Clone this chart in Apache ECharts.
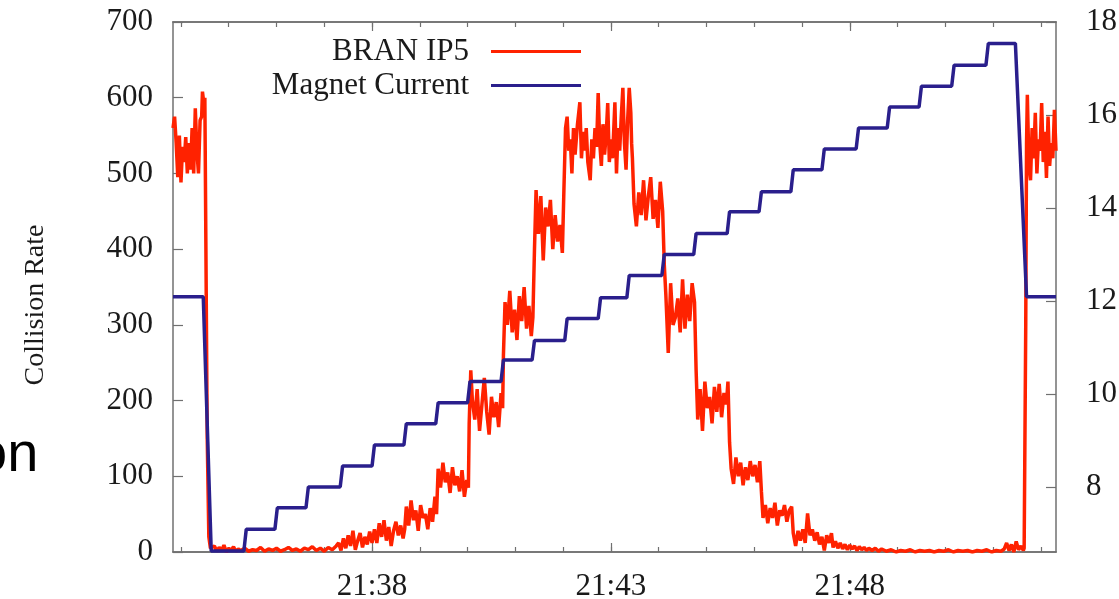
<!DOCTYPE html>
<html>
<head>
<meta charset="utf-8">
<script src="https://cdn.jsdelivr.net/npm/echarts@6/dist/echarts.min.js"></script>
<style>
  html, body { margin: 0; padding: 0; background: #fff; }
  #grafico { width: 1119px; height: 599px; }
</style>
</head>
<body>
<div id="grafico"></div>
<script>
// x values are seconds after 21:30:00
const rateData = [
  [230,560],[232,575],[234,540],[236,495],[238,550],[240,488],[242,535],[244,515],[246,548],[248,500],
  [250,540],[252,505],[254,560],[256,500],[258,586],[260,530],[262,500],[264,570],[266,575],[267,608],
  [269,590],[270,600],[271,450],[273,150],[275,20],[277,5],
  [279,3],[282,8],[285,1],[288,6],[291,2],[294,9],[297,0],[300,5],[303,2],[306,7],[309,1],[312,4],
  [315,2],[320,5],[325,1],[330,3],[335,2],[340,6],[345,1],[350,4],[355,2],[360,5],[365,1],[370,3],
  [375,6],[380,2],[385,4],[390,1],[395,5],[400,3],[405,7],[410,2],[415,5],[420,1],[425,6],[430,3],[435,8],
  [438,12],[441,2],[444,18],[447,5],[450,22],[453,8],[456,28],[459,3],[462,15],[465,25],[468,6],
  [471,20],[474,10],[477,27],[480,12],
  [483,30],[486,12],[489,38],[492,20],[495,42],[498,15],[501,33],[504,8],[507,28],[510,40],[513,22],
  [516,35],[519,18],[521,30],
  [523,60],[526,35],[529,68],[532,42],[535,55],[538,28],[541,62],[544,45],[547,50],[550,30],[553,58],
  [556,40],[559,73],[561,50],
  [563,110],[566,85],[569,118],[572,92],[575,105],[578,78],[581,112],[584,88],[587,100],[590,80],
  [593,108],[596,73],[599,95],[601,85],
  [602,170],[604,240],[606,200],[609,175],[612,215],[615,160],[618,195],[621,230],[624,185],[627,155],
  [630,205],[633,178],[636,198],[639,165],[642,210],[644,190],
  [645,260],[647,330],[650,300],[653,345],[656,290],[659,320],[662,280],[665,338],[668,305],[671,350],
  [674,295],[677,325],[680,285],[682,310],
  [684,400],[686,478],[689,420],[692,470],[695,385],[698,455],[701,430],[704,465],[707,400],[710,445],
  [713,410],[716,432],[719,395],
  [721,480],[723,560],[725,575],[727,530],[729,545],[731,500],[733,560],[735,525],[738,565],[741,594],
  [743,520],[745,555],[747,530],[749,560],[751,515],[754,491],[756,545],[758,520],[760,560],[762,535],
  [764,606],[766,540],[768,510],[770,565],[772,525],[774,550],[776,593],[778,515],[780,545],[782,520],
  [785,594],[787,500],[789,560],[791,530],[793,575],[795,613],[797,540],[799,505],[801,570],[803,613],
  [805,580],[806,540],
  [807,520],[809,460],[812,430],[815,475],[818,445],[821,491],[824,438],[827,470],[830,495],[833,440],
  [836,465],[839,428],[842,489],[845,450],
  [847,380],[849,340],[852,263],[855,355],[858,300],[861,310],[864,335],[867,290],[870,360],[873,295],
  [876,340],[879,305],[882,355],[885,330],
  [887,240],[889,175],[892,215],[895,160],[898,225],[901,190],[904,205],[907,170],[910,218],[913,185],
  [916,222],[919,178],[922,210],[925,195],[927,225],
  [929,145],[931,110],[934,90],[937,125],[940,100],[943,118],[946,88],[949,112],[952,95],[955,120],
  [958,100],[961,115],[964,92],[967,120],
  [969,80],[971,45],[974,62],[977,38],[980,58],[983,45],[986,65],[989,35],[992,55],[995,48],
  [998,62],[1001,40],[1004,55],[1007,60],
  [1009,25],[1012,8],[1015,28],[1018,15],[1021,30],[1024,12],[1027,51],[1030,22],[1033,30],[1036,15],
  [1039,26],[1042,10],[1045,20],[1048,2],[1051,22],[1054,12],[1057,25],[1059,6],
  [1062,14],[1065,5],[1068,12],[1071,4],[1074,10],[1077,3],[1080,9],[1083,4],[1086,8],[1089,2],
  [1092,7],[1095,3],[1098,6],[1101,2],[1104,5],[1108,2],[1112,5],[1116,1],[1120,4],
  [1126,1],[1132,3],[1138,0],[1144,2],[1150,1],[1156,3],[1162,0],[1168,2],[1174,1],[1180,2],
  [1186,0],[1192,2],[1198,1],[1204,3],[1210,0],[1216,2],[1222,1],[1228,2],[1234,0],[1240,2],
  [1246,1],[1252,3],[1258,0],[1264,2],[1270,1],
  [1274,4],[1277,12],[1280,2],[1283,10],[1286,0],[1289,14],[1292,3],[1295,8],[1298,2],
  [1299,5],[1301,300],[1302,540],
  [1303,604],[1305,510],[1307,491],[1309,560],[1311,520],[1313,580],[1315,500],[1317,545],[1319,530],
  [1321,593],[1323,515],[1325,555],[1327,494],[1329,575],[1331,510],[1333,540],[1335,520],[1337,584],[1339,530]
]

const magnetData = [
  [230,12.09],[268,12.09],[278,6.62],[319,6.62],[322,7.09],[358,7.09],[361,7.55],[397,7.55],
  [400,8.00],[440,8.00],[443,8.45],[480,8.45],[483,8.90],[520,8.90],[523,9.36],[560,9.36],
  [563,9.81],[600,9.81],[603,10.27],[642,10.27],[645,10.73],[681,10.73],[684,11.15],[722,11.15],
  [725,11.62],[764,11.62],[767,12.07],[800,12.07],[803,12.55],[844,12.55],[847,13.00],[884,13.00],
  [887,13.45],[926,13.45],[929,13.92],[966,13.92],[969,14.35],[1006,14.35],[1009,14.82],[1045,14.82],
  [1048,15.27],[1088,15.27],[1091,15.72],[1127,15.72],[1130,16.17],[1167,16.17],[1170,16.62],[1208,16.62],
  [1211,17.07],[1251,17.07],[1254,17.54],[1288,17.54],[1302,12.09],[1339,12.09]
]

const timeTicks = [480, 780, 1080]
const timeLabels = ['21:38', '21:43', '21:48']
const minuteTicks = [240,300,360,420,480,540,600,660,720,780,840,900,960,1020,1080,1140,1200,1260,1320]
const currentTicks = [8, 10, 12, 14, 16, 18]

const serif = '"Liberation Serif", "DejaVu Serif", serif'
const gris = '#707070'
const texto = '#1a1a1a'
const rojo = '#ff2200'
const azul = '#2a1f8c'

let chart = echarts.init(document.getElementById('grafico'), null, { renderer: 'canvas' })

const ejeX = (pos, values, len, labels) => ({
  type: 'value',
  position: pos,
  min: 230,
  max: 1339,
  splitLine: { show: false },
  axisLine: { show: true, onZero: false, lineStyle: { color: gris, width: 1.5 } },
  axisTick: { show: true, inside: true, length: len, customValues: values, lineStyle: { color: gris, width: 1.2 } },
  axisLabel: labels
    ? {
        show: true,
        customValues: timeTicks,
        margin: 19,
        color: texto,
        fontFamily: serif,
        fontSize: 31,
        formatter: v => timeLabels[timeTicks.indexOf(v)]
      }
    : { show: false }
})

let option = {
  backgroundColor: '#ffffff',
  animation: false,
  grid: { left: 173, right: 63, top: 22, bottom: 47, outerBoundsMode: 'none' },
  legend: {
    orient: 'vertical',
    align: 'right',
    right: 533,
    top: 31,
    icon: 'rect',
    itemWidth: 90,
    itemHeight: 3,
    itemGap: 3,
    textStyle: { fontFamily: serif, fontSize: 31, color: texto, padding: [0, 17, 0, 0] },
    data: ['BRAN IP5', 'Magnet Current']
  },
  graphic: [
    {
      type: 'text',
      left: -24,
      top: 428,
      style: { text: 'on', font: '56px "Liberation Sans", Arial, sans-serif', fill: '#000' }
    }
  ],
  xAxis: [
    ejeX('bottom', timeTicks, 9, true),
    ejeX('bottom', minuteTicks, 5, false),
    ejeX('top', timeTicks, 9, false),
    ejeX('top', minuteTicks, 5, false)
  ],
  yAxis: [
    {
      type: 'value',
      position: 'left',
      min: 0,
      max: 700,
      interval: 100,
      name: 'Collision Rate',
      nameLocation: 'middle',
      nameRotate: 90,
      nameGap: 123,
      nameTextStyle: { fontFamily: serif, fontSize: 28, color: texto, padding: [0, 36, 0, 0] },
      splitLine: { show: false },
      axisLine: { show: true, lineStyle: { color: gris, width: 1.5 } },
      axisTick: { show: true, inside: true, length: 10, lineStyle: { color: gris, width: 1.2 } },
      axisLabel: { margin: 20, color: texto, fontFamily: serif, fontSize: 31 }
    },
    {
      type: 'value',
      position: 'right',
      min: 6.6,
      max: 18,
      splitLine: { show: false },
      axisLine: { show: true, lineStyle: { color: gris, width: 1.5 } },
      axisTick: { show: true, inside: true, length: 10, customValues: currentTicks, lineStyle: { color: gris, width: 1.2 } },
      axisLabel: { customValues: currentTicks, margin: 30, color: texto, fontFamily: serif, fontSize: 31 }
    }
  ],
  series: [
    {
      name: 'BRAN IP5',
      type: 'line',
      xAxisIndex: 0,
      yAxisIndex: 0,
      data: rateData,
      symbol: 'none',
      showSymbol: false,
      lineStyle: { color: rojo, width: 3.5 },
      itemStyle: { color: rojo }
    },
    {
      name: 'Magnet Current',
      type: 'line',
      xAxisIndex: 0,
      yAxisIndex: 1,
      data: magnetData,
      symbol: 'none',
      showSymbol: false,
      lineStyle: { color: azul, width: 3.5 },
      itemStyle: { color: azul }
    }
  ]
}

chart.setOption(option)
</script>
</body>
</html>
